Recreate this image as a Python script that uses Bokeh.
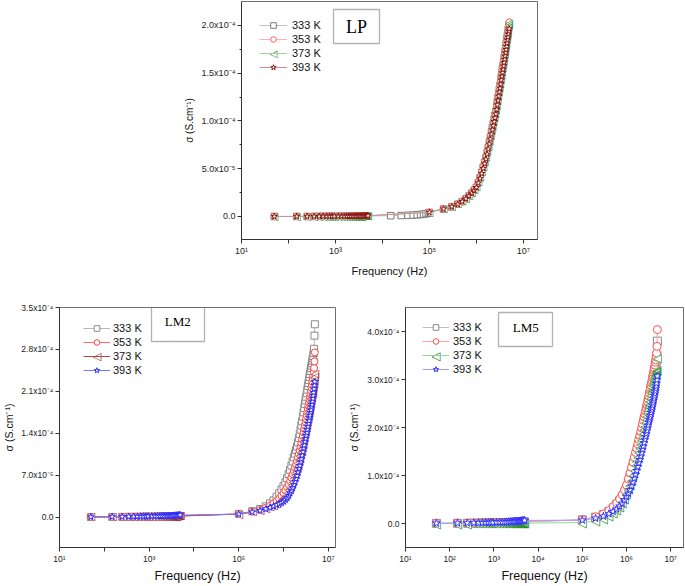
import numpy as np
from bokeh.plotting import figure
from bokeh.models import (Range1d, FixedTicker, Legend, LegendItem, Label,
                          BoxAnnotation, Spacer, ColumnDataSource)
from bokeh.layouts import column, row
from bokeh.embed import file_html
from bokeh.resources import INLINE
from bokeh.core.properties import value

UNIT = 1e-5  # all sigma lists below are in units of 1e-5 S/cm

TEMPS = ["333 K", "353 K", "373 K", "393 K"]

# ---------------- frequencies (Hz) ----------------
F_LOW = [50, 150, 250, 350, 450, 550, 650, 750, 850, 950,
         1150, 1350, 1550, 1750, 1950, 2150, 2350, 2550, 2750, 2950,
         3150, 3350, 3550, 3750, 3950, 4150, 4350, 4550, 4750, 4950]
F_MID_LP_333 = [15000, 25000, 35000, 45000, 55000, 65000, 75000, 85000, 95000]
F_HIGH = [1e5, 2e5, 3e5, 4e5, 5e5, 6e5, 7e5, 8e5, 9e5, 10e5,
          11e5, 12e5, 13e5, 14e5, 15e5, 16e5, 17e5, 18e5, 19e5, 20e5,
          21e5, 22e5, 23e5, 24e5, 25e5, 26e5, 27e5, 28e5, 29e5, 30e5,
          31e5, 32e5, 33e5, 34e5, 35e5, 36e5, 37e5, 38e5, 39e5, 40e5,
          41e5, 42e5, 43e5, 44e5, 45e5, 46e5, 47e5, 48e5, 49e5, 50e5]

# ---------------- LP ----------------
LP_333_LOW = [0.00, 0.00, 0.00, 0.00, 0.01, 0.01, 0.01, 0.01, 0.01, 0.01, 0.01, 0.02, 0.02, 0.02, 0.02,
              0.02, 0.02, 0.03, 0.03, 0.03, 0.03, 0.03, 0.03, 0.04, 0.04, 0.04, 0.04, 0.04, 0.05, 0.05]
LP_333_MID = [0.08, 0.10, 0.12, 0.15, 0.18, 0.21, 0.25, 0.29, 0.34]
LP_333_HIGH = [0.42, 0.78, 1.00, 1.28, 1.55, 1.85, 2.15, 2.45, 2.75, 3.05,
               3.55, 4.05, 4.60, 5.15, 5.65, 6.15, 6.70, 7.25, 7.80, 8.30,
               8.85, 9.30, 9.75, 10.20, 10.60, 11.00, 11.50, 12.00, 12.45, 12.90,
               13.35, 13.75, 14.20, 14.65, 15.05, 15.45, 15.80, 16.15, 16.55, 16.90,
               17.25, 17.60, 17.95, 18.30, 18.65, 18.95, 19.25, 19.60, 19.85, 20.10]
LP_353_LOW = [0.00, 0.00, 0.00, 0.01, 0.01, 0.01, 0.01, 0.01, 0.01, 0.02, 0.02, 0.02, 0.02, 0.02, 0.03,
              0.03, 0.03, 0.03, 0.03, 0.04, 0.04, 0.04, 0.04, 0.04, 0.05, 0.05, 0.05, 0.05, 0.06, 0.06]
LP_353_HIGH = [0.45, 0.80, 1.05, 1.30, 1.60, 1.90, 2.20, 2.50, 2.80, 3.10,
               3.60, 4.10, 4.65, 5.20, 5.70, 6.20, 6.75, 7.30, 7.85, 8.40,
               8.95, 9.40, 9.85, 10.30, 10.70, 11.10, 11.60, 12.10, 12.60, 13.05,
               13.50, 13.90, 14.35, 14.80, 15.20, 15.60, 15.95, 16.30, 16.70, 17.05,
               17.40, 17.75, 18.10, 18.45, 18.80, 19.15, 19.45, 19.80, 20.10, 20.35]
LP_373_LOW = [0.00, 0.00, 0.01, 0.01, 0.01, 0.01, 0.01, 0.02, 0.02, 0.02, 0.02, 0.02, 0.03, 0.03, 0.03,
              0.03, 0.04, 0.04, 0.04, 0.04, 0.05, 0.05, 0.05, 0.05, 0.06, 0.06, 0.06, 0.06, 0.07, 0.07]
LP_373_HIGH = [0.46, 0.82, 1.07, 1.33, 1.63, 1.93, 2.24, 2.55, 2.86, 3.17,
               3.67, 4.18, 4.72, 5.27, 5.78, 6.28, 6.83, 7.38, 7.92, 8.47,
               9.00, 9.45, 9.90, 10.35, 10.75, 11.15, 11.65, 12.15, 12.65, 13.10,
               13.55, 13.95, 14.40, 14.85, 15.25, 15.65, 16.00, 16.35, 16.75, 17.10,
               17.45, 17.80, 18.15, 18.50, 18.85, 19.20, 19.50, 19.85, 20.15, 20.30]
LP_393_LOW = [0.00, 0.01, 0.01, 0.01, 0.01, 0.02, 0.02, 0.02, 0.02, 0.02, 0.03, 0.03, 0.03, 0.03, 0.04,
              0.04, 0.04, 0.04, 0.05, 0.05, 0.05, 0.06, 0.06, 0.06, 0.06, 0.07, 0.07, 0.07, 0.08, 0.08]
LP_393_HIGH = [0.44, 0.79, 1.03, 1.28, 1.57, 1.86, 2.16, 2.45, 2.74, 3.03,
               3.50, 3.98, 4.50, 5.03, 5.52, 6.00, 6.52, 7.05, 7.58, 8.10,
               8.62, 9.07, 9.50, 9.93, 10.33, 10.72, 11.20, 11.68, 12.15, 12.60,
               13.03, 13.42, 13.85, 14.28, 14.67, 15.05, 15.40, 15.75, 16.12, 16.45,
               16.80, 17.13, 17.47, 17.80, 18.15, 18.48, 18.78, 19.10, 19.40, 19.65]

# ---------------- LM2 ----------------
LM2_333_LOW = [0.02, 0.03, 0.04, 0.05, 0.05, 0.06, 0.06, 0.07, 0.07, 0.08, 0.08, 0.09, 0.09, 0.10, 0.10,
               0.11, 0.11, 0.12, 0.12, 0.13, 0.13, 0.14, 0.14, 0.15, 0.15, 0.16, 0.16, 0.17, 0.17, 0.18]
LM2_333_HIGH = [0.55, 1.00, 1.35, 1.80, 2.30, 2.80, 3.40, 4.00, 4.60, 5.20,
                5.80, 6.50, 7.20, 7.90, 8.60, 9.30, 10.00, 10.60, 11.20, 11.80,
                12.50, 13.20, 13.90, 14.60, 15.30, 16.00, 16.80, 17.50, 18.20, 18.90,
                19.50, 20.10, 20.70, 21.30, 21.90, 22.40, 22.90, 23.40, 23.90, 24.40,
                24.90, 25.30, 25.70, 26.10, 26.50, 26.90, 27.40, 28.10, 30.30, 32.20]
LM2_353_LOW = [0.03, 0.04, 0.05, 0.06, 0.06, 0.07, 0.07, 0.08, 0.08, 0.09, 0.09, 0.10, 0.10, 0.11, 0.11,
               0.12, 0.12, 0.13, 0.13, 0.14, 0.14, 0.15, 0.15, 0.16, 0.16, 0.17, 0.17, 0.18, 0.18, 0.19]
LM2_353_HIGH = [0.52, 0.90, 1.20, 1.55, 1.90, 2.30, 2.70, 3.10, 3.55, 4.00,
                4.50, 5.00, 5.50, 6.05, 6.60, 7.15, 7.70, 8.25, 8.80, 9.35,
                9.95, 10.55, 11.15, 11.75, 12.35, 12.95, 13.55, 14.15, 14.75, 15.35,
                15.90, 16.45, 17.00, 17.55, 18.10, 18.60, 19.10, 19.60, 20.10, 20.60,
                21.10, 21.60, 22.10, 22.60, 23.10, 23.60, 24.20, 24.90, 26.00, 27.50]
LM2_373_LOW = [0.03, 0.05, 0.06, 0.07, 0.07, 0.08, 0.09, 0.09, 0.10, 0.10, 0.11, 0.11, 0.12, 0.12, 0.13,
               0.13, 0.14, 0.14, 0.15, 0.15, 0.16, 0.16, 0.17, 0.17, 0.18, 0.18, 0.19, 0.19, 0.20, 0.20]
LM2_373_HIGH = [0.50, 0.87, 1.14, 1.42, 1.70, 1.98, 2.27, 2.57, 2.90, 3.25,
                3.65, 4.10, 4.55, 5.00, 5.50, 6.00, 6.55, 7.10, 7.60, 8.15,
                8.70, 9.30, 9.85, 10.45, 11.00, 11.60, 12.20, 12.80, 13.35, 13.90,
                14.45, 15.00, 15.50, 16.05, 16.55, 17.05, 17.55, 18.05, 18.50, 19.00,
                19.45, 19.90, 20.40, 20.85, 21.30, 21.80, 22.30, 22.80, 23.40, 24.00]
LM2_393_LOW = [0.04, 0.06, 0.08, 0.09, 0.10, 0.11, 0.12, 0.13, 0.14, 0.15, 0.16, 0.17, 0.18, 0.19, 0.20,
               0.21, 0.22, 0.23, 0.24, 0.25, 0.26, 0.27, 0.28, 0.29, 0.30, 0.31, 0.32, 0.33, 0.34, 0.35]
LM2_393_HIGH = [0.50, 0.85, 1.10, 1.35, 1.60, 1.80, 2.00, 2.20, 2.40, 2.60,
                2.90, 3.20, 3.60, 4.00, 4.40, 4.90, 5.40, 5.90, 6.40, 6.90,
                7.50, 8.10, 8.60, 9.20, 9.70, 10.30, 10.90, 11.50, 12.00, 12.60,
                13.10, 13.60, 14.10, 14.60, 15.10, 15.60, 16.10, 16.60, 17.00, 17.50,
                17.90, 18.40, 18.80, 19.30, 19.80, 20.30, 20.80, 21.40, 22.00, 22.60]

# ---------------- LM5 ----------------
LM5_333_LOW = [0.03, 0.05, 0.06, 0.07, 0.08, 0.09, 0.10, 0.11, 0.12, 0.13, 0.14, 0.15, 0.16, 0.17, 0.18,
               0.19, 0.20, 0.21, 0.22, 0.23, 0.24, 0.25, 0.26, 0.27, 0.28, 0.29, 0.30, 0.31, 0.32, 0.33]
LM5_333_HIGH = [0.75, 1.30, 1.85, 2.50, 3.20, 3.95, 4.70, 5.55, 6.45, 7.40,
                8.50, 9.60, 10.70, 11.80, 12.80, 13.80, 14.70, 15.60, 16.50, 17.30,
                18.10, 18.90, 19.70, 20.50, 21.20, 21.90, 22.60, 23.30, 24.00, 24.60,
                25.20, 25.80, 26.40, 27.00, 27.60, 28.20, 28.70, 29.20, 29.70, 30.20,
                30.70, 31.20, 31.70, 32.20, 32.70, 33.20, 33.70, 34.30, 35.00, 38.00]
LM5_353_LOW = [0.04, 0.06, 0.07, 0.08, 0.09, 0.10, 0.11, 0.12, 0.13, 0.14, 0.15, 0.16, 0.17, 0.18, 0.19,
               0.20, 0.21, 0.22, 0.23, 0.24, 0.25, 0.26, 0.27, 0.28, 0.29, 0.30, 0.31, 0.32, 0.33, 0.35]
LM5_353_HIGH = [0.80, 1.40, 2.00, 2.70, 3.50, 4.30, 5.10, 6.00, 7.00, 8.00,
                9.30, 10.50, 11.70, 12.80, 13.80, 14.80, 15.70, 16.60, 17.50, 18.30,
                19.10, 19.90, 20.70, 21.50, 22.20, 22.80, 23.40, 24.00, 24.70, 25.30,
                25.90, 26.50, 27.10, 27.70, 28.20, 28.80, 29.30, 29.80, 30.40, 30.90,
                31.40, 31.90, 32.40, 33.00, 33.60, 34.10, 34.70, 35.50, 36.90, 40.40]
LM5_373_LOW = [0.00, 0.00, 0.00, 0.01, 0.01, 0.01, 0.01, 0.02, 0.02, 0.02, 0.02, 0.03, 0.03, 0.03, 0.03,
               0.04, 0.04, 0.04, 0.04, 0.05, 0.05, 0.05, 0.05, 0.06, 0.06, 0.06, 0.06, 0.07, 0.07, 0.07]
LM5_373_HIGH = [0.20, 0.50, 1.00, 1.50, 2.10, 2.80, 3.50, 4.30, 5.20, 6.10,
                7.10, 8.10, 9.10, 10.10, 11.10, 12.10, 13.00, 13.90, 14.80, 15.70,
                16.50, 17.30, 18.10, 18.90, 19.70, 20.40, 21.10, 21.80, 22.50, 23.20,
                23.80, 24.40, 25.00, 25.60, 26.20, 26.80, 27.30, 27.80, 28.30, 28.80,
                29.30, 29.70, 30.10, 30.50, 30.90, 31.20, 31.50, 31.80, 32.00, 34.40]
LM5_393_LOW = [0.05, 0.08, 0.10, 0.12, 0.14, 0.16, 0.18, 0.20, 0.22, 0.24, 0.26, 0.28, 0.30, 0.32, 0.34,
               0.36, 0.38, 0.40, 0.42, 0.44, 0.46, 0.48, 0.50, 0.52, 0.54, 0.56, 0.58, 0.60, 0.62, 0.64]
LM5_393_HIGH = [0.70, 1.10, 1.50, 2.00, 2.50, 3.00, 3.60, 4.20, 4.90, 5.60,
                6.30, 7.00, 7.80, 8.60, 9.40, 10.20, 11.00, 11.80, 12.60, 13.30,
                14.00, 14.70, 15.40, 16.10, 16.80, 17.50, 18.10, 18.70, 19.30, 19.90,
                20.50, 21.10, 21.60, 22.10, 22.60, 23.10, 23.60, 24.10, 24.60, 25.10,
                25.60, 26.10, 26.60, 27.10, 27.60, 28.10, 28.60, 29.20, 29.90, 30.70]

# ---------------- ticks ----------------
X_TICKS = [1e1, 1e2, 1e3, 1e4, 1e5, 1e6, 1e7]
X_LABELS_ODD = ["10¹", "", "10³", "", "10⁵", "", "10⁷"]
X_LABELS_ALL = ["10¹", "10²", "10³", "10⁴", "10⁵", "10⁶", "10⁷"]
LP_Y_TICKS = [0.0, 5e-5, 1e-4, 1.5e-4, 2e-4]
LP_Y_LABELS = ["0.0", "5.0x10⁻⁵", "1.0x10⁻⁴", "1.5x10⁻⁴", "2.0x10⁻⁴"]
LP_Y_MINOR = [-2.5e-5, 2.5e-5, 7.5e-5, 1.25e-4, 1.75e-4]
LM2_Y_TICKS = [0.0, 7e-5, 1.4e-4, 2.1e-4, 2.8e-4, 3.5e-4]
LM2_Y_LABELS = ["0.0", "7.0x10⁻⁵", "1.4x10⁻⁴", "2.1x10⁻⁴", "2.8x10⁻⁴", "3.5x10⁻⁴"]
LM5_Y_TICKS = [0.0, 1e-4, 2e-4, 3e-4, 4e-4]
LM5_Y_LABELS = ["0.0", "1.0x10⁻⁴", "2.0x10⁻⁴", "3.0x10⁻⁴", "4.0x10⁻⁴"]

SANS = "Liberation Sans"
SERIF = "Liberation Serif"
SYMBOL_FONT = "DejaVu Sans"
TRI_OPEN = "◁"   # left-pointing open triangle symbol
TRI_FILL = "◀"   # same shape, drawn in white underneath as the symbol fill


def series(f_parts, s_parts):
    f = []
    s = []
    for part in f_parts:
        f += list(part)
    for part in s_parts:
        s += list(part)
    return np.array(f, dtype=float), np.array(s, dtype=float) * UNIT


def make_panel(cfg):
    p = figure(width=cfg["w"], height=cfg["h"], x_axis_type="log",
               x_range=Range1d(*cfg["xr"]), y_range=Range1d(*cfg["yr"]),
               output_backend="svg", toolbar_location=None,
               min_border_left=cfg["mb"][0], min_border_right=cfg["mb"][1],
               min_border_top=cfg["mb"][2], min_border_bottom=cfg["mb"][3])
    p.grid.visible = False
    p.background_fill_color = "white"
    p.border_fill_color = "white"
    p.outline_line_color = "#707070"
    p.outline_line_width = 1

    xa = p.xaxis[0]
    ya = p.yaxis[0]
    xa.ticker = FixedTicker(ticks=X_TICKS, minor_ticks=[])
    xa.major_label_overrides = dict(zip(X_TICKS, cfg["xlabels"]))
    ya.ticker = FixedTicker(ticks=cfg["yticks"], minor_ticks=cfg["yminor"])
    ya.major_label_overrides = dict(zip(cfg["yticks"], cfg["ylabels"]))
    for ax in (xa, ya):
        ax.axis_line_color = "#333333"
        ax.major_tick_line_color = "#333333"
        ax.minor_tick_line_color = "#333333"
        ax.major_tick_out = 4
        ax.major_tick_in = 0
        ax.minor_tick_out = 2
        ax.minor_tick_in = 0
        ax.major_label_text_font = SANS
        ax.major_label_text_font_size = cfg["tick_fs"]
        ax.major_label_text_color = "#222222"
        ax.axis_label_text_font = SANS
        ax.axis_label_text_font_style = "normal"
        ax.axis_label_text_color = "#111111"
        ax.major_label_standoff = 2
    xa.axis_label = "Frequency (Hz)"
    xa.axis_label_text_font_size = cfg["xlab_fs"]
    xa.axis_label_standoff = cfg["xlab_so"]
    ya.axis_label = "σ (S.cm⁻¹)"
    ya.axis_label_text_font_size = cfg["ylab_fs"]
    ya.axis_label_standoff = cfg["ylab_so"]

    lx, ly = cfg["leg_loc"]
    gw = cfg["glyph_w"]
    tri_fs = cfg["tri_fs"]
    items = []
    for k, (name, f, s, style) in enumerate(cfg["series"]):
        src = ColumnDataSource(data=dict(f=f, s=s))
        lr = p.line("f", "s", source=src, line_color=style["line"], line_width=1)
        if style["marker"] == "tri_left":
            p.text("f", "s", source=src, text=value(TRI_FILL), text_font=value(SYMBOL_FONT),
                   text_font_size=value(tri_fs), text_color="white",
                   text_align="center", text_baseline="middle")
            p.text("f", "s", source=src, text=value(TRI_OPEN), text_font=value(SYMBOL_FONT),
                   text_font_size=value(tri_fs), text_color=style["color"],
                   text_align="center", text_baseline="middle")
            # symbol for the legend row (text glyphs draw no legend swatch)
            cy = ly + 56 - 7 - 14 * k
            for ch, col in ((TRI_FILL, "white"), (TRI_OPEN, style["color"])):
                p.add_layout(Label(x=lx + gw / 2, y=cy, x_units="screen", y_units="screen",
                                   text=ch, text_font=SYMBOL_FONT, text_font_size=tri_fs,
                                   text_color=col, text_align="center",
                                   text_baseline="middle"))
            items.append(LegendItem(label=name, renderers=[lr]))
        else:
            sr = p.scatter("f", "s", source=src, marker=style["marker"],
                           size=cfg["msize"], line_color=style["color"],
                           fill_color="white", line_width=1)
            items.append(LegendItem(label=name, renderers=[lr, sr]))

    lg = Legend(items=items, location=(lx, ly), padding=0, spacing=0, margin=0,
                glyph_width=gw, glyph_height=14, label_height=14,
                label_standoff=cfg["label_so"], border_line_alpha=0,
                background_fill_alpha=0, label_text_font=SANS,
                label_text_font_size="11px", label_text_color="#111111")
    p.add_layout(lg)

    bl, br, bb, bt = cfg["box"]
    p.add_layout(BoxAnnotation(left=bl, right=br, bottom=bb, top=bt,
                               left_units="screen", right_units="screen",
                               bottom_units="screen", top_units="screen",
                               fill_alpha=0, line_color="black", line_width=1.3))
    tx, ty = cfg["title_xy"]
    p.add_layout(Label(x=tx, y=ty, x_units="screen", y_units="screen", text=cfg["title"],
                       text_font=SERIF, text_font_size=cfg["title_fs"],
                       text_align="center", text_baseline="middle", text_color="black"))
    return p


LP_STY = [dict(marker="square", color="#7a7a7a", line="#c0c0c0"),
          dict(marker="circle", color="#ff5a5a", line="#ffb0b0"),
          dict(marker="tri_left", color="#1f8a1f", line="#a0d4a0"),
          dict(marker="star", color="#8b1010", line="#c89090")]
LM2_STY = [dict(marker="square", color="#8a8a8a", line="#b8b8b8"),
           dict(marker="circle", color="#ff4040", line="#ff6a6a"),
           dict(marker="tri_left", color="#9a1010", line="#b04848"),
           dict(marker="star", color="#2a2aff", line="#7878ff")]
LM5_STY = [dict(marker="square", color="#8a8a8a", line="#c0c0c0"),
           dict(marker="circle", color="#ff5050", line="#ffa0a0"),
           dict(marker="tri_left", color="#1f8a1f", line="#98d498"),
           dict(marker="star", color="#3030ff", line="#9a9aff")]

lp_series = [
    (TEMPS[0],) + series([F_LOW, F_MID_LP_333, F_HIGH], [LP_333_LOW, LP_333_MID, LP_333_HIGH]) + (LP_STY[0],),
    (TEMPS[1],) + series([F_LOW, F_HIGH], [LP_353_LOW, LP_353_HIGH]) + (LP_STY[1],),
    (TEMPS[2],) + series([F_LOW, F_HIGH], [LP_373_LOW, LP_373_HIGH]) + (LP_STY[2],),
    (TEMPS[3],) + series([F_LOW, F_HIGH], [LP_393_LOW, LP_393_HIGH]) + (LP_STY[3],),
]
lm2_series = [
    (TEMPS[0],) + series([F_LOW, F_HIGH], [LM2_333_LOW, LM2_333_HIGH]) + (LM2_STY[0],),
    (TEMPS[1],) + series([F_LOW, F_HIGH], [LM2_353_LOW, LM2_353_HIGH]) + (LM2_STY[1],),
    (TEMPS[2],) + series([F_LOW, F_HIGH], [LM2_373_LOW, LM2_373_HIGH]) + (LM2_STY[2],),
    (TEMPS[3],) + series([F_LOW, F_HIGH], [LM2_393_LOW, LM2_393_HIGH]) + (LM2_STY[3],),
]
lm5_series = [
    (TEMPS[0],) + series([F_LOW, F_HIGH], [LM5_333_LOW, LM5_333_HIGH]) + (LM5_STY[0],),
    (TEMPS[1],) + series([F_LOW, F_HIGH], [LM5_353_LOW, LM5_353_HIGH]) + (LM5_STY[1],),
    (TEMPS[2],) + series([F_LOW, F_HIGH], [LM5_373_LOW, LM5_373_HIGH]) + (LM5_STY[2],),
    (TEMPS[3],) + series([F_LOW, F_HIGH], [LM5_393_LOW, LM5_393_HIGH]) + (LM5_STY[3],),
]

# the page origin is at (0, 0): Bokeh's page template has no body margin
p1 = make_panel(dict(
    w=367, h=283, mb=(66, 5, 1, 44), xr=(10, 2.0e7), yr=(-2.41e-5, 2.251e-4),
    xlabels=X_LABELS_ODD, yticks=LP_Y_TICKS, ylabels=LP_Y_LABELS, yminor=LP_Y_MINOR,
    tick_fs="9px", xlab_fs="11px", xlab_so=6, ylab_fs="10px", ylab_so=4,
    series=lp_series, msize=6.5, tri_fs="10px", leg_loc=(18, 165), glyph_w=28, label_so=5,
    box=(92, 138, 196, 230), title="LP", title_xy=(115, 213), title_fs="18px"))

p2 = make_panel(dict(
    w=340, h=302, mb=(59, 5, 19, 38), xr=(10, 1.445e7), yr=(-5.07e-5, 3.5e-4),
    xlabels=X_LABELS_ODD, yticks=LM2_Y_TICKS, ylabels=LM2_Y_LABELS, yminor=[],
    tick_fs="8.5px", xlab_fs="12.5px", xlab_so=2, ylab_fs="10.5px", ylab_so=3,
    series=lm2_series, msize=7, tri_fs="11px", leg_loc=(24, 170), glyph_w=27, label_so=3,
    box=(92, 145, 206, 241), title="LM2", title_xy=(118.3, 226.3), title_fs="13px"))

p3 = make_panel(dict(
    w=344, h=302, mb=(65, 1, 24, 38), xr=(10, 1.95e7), yr=(-5e-5, 4.5e-4),
    xlabels=X_LABELS_ALL, yticks=LM5_Y_TICKS, ylabels=LM5_Y_LABELS, yminor=[],
    tick_fs="8.5px", xlab_fs="12.5px", xlab_so=2, ylab_fs="10.5px", ylab_so=4,
    series=lm5_series, msize=8, tri_fs="12px", leg_loc=(17, 171), glyph_w=27, label_so=4,
    box=(93, 147, 201, 235), title="LM5", title_xy=(120.2, 219.7), title_fs="13px"))

layout = column(row(Spacer(width=175, height=283), p1), row(p2, p3))

with open("out.html", "w") as fh:
    fh.write(file_html(layout, INLINE))
